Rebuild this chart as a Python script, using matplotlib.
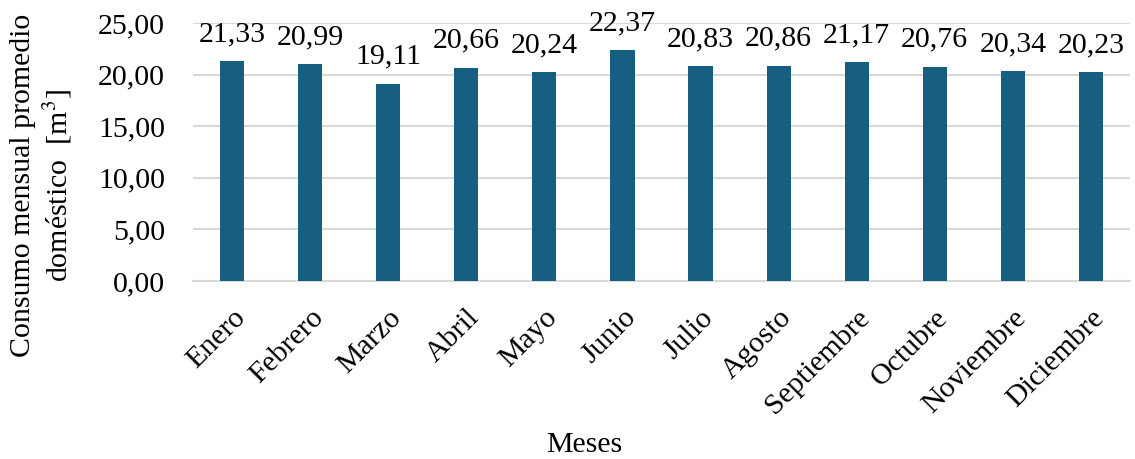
import matplotlib
matplotlib.use("Agg")
import matplotlib.pyplot as plt
import numpy as np

meses = ["Enero", "Febrero", "Marzo", "Abril", "Mayo", "Junio", "Julio",
         "Agosto", "Septiembre", "Octubre", "Noviembre", "Diciembre"]
consumo = [21.33, 20.99, 19.11, 20.66, 20.24, 22.37, 20.83,
           20.86, 21.17, 20.76, 20.34, 20.23]
yticks = [0, 5, 10, 15, 20, 25]

plt.rcParams['font.family'] = ['Liberation Serif', 'DejaVu Serif']
plt.rcParams['mathtext.fontset'] = 'stix'
fs = 21.5

fig, ax = plt.subplots(figsize=(11.35, 4.59), dpi=100)
fig.subplots_adjust(left=0.170, right=0.9956, top=0.95, bottom=0.388)

x = np.arange(len(meses))
bars = ax.bar(x, consumo, width=0.31, color='#175f80', zorder=3)

for xi, v in zip(x, consumo):
    ax.annotate(f"{v:.2f}".replace('.', ','), (xi, v), xytext=(0, 10),
                textcoords='offset points', ha='center', va='bottom', fontsize=fs)

ax.set_ylim(0, 25)
ax.set_xlim(-0.5, len(meses) - 0.5)
ax.set_yticks(yticks)
ax.set_yticklabels([f"{t:.2f}".replace('.', ',') for t in yticks], fontsize=fs)
ax.set_xticks(x)
ax.set_xticklabels(meses, rotation=45, ha='right', rotation_mode='anchor', fontsize=fs)
ax.tick_params(axis='y', length=0, pad=20)
ax.tick_params(axis='x', length=0, pad=17)
ax.grid(axis='y', color='#d9d9d9', linewidth=1.5, zorder=0)
for s in ['top', 'right', 'left']:
    ax.spines[s].set_visible(False)
ax.spines['bottom'].set_color('#d9d9d9')
ax.spines['bottom'].set_linewidth(1.5)

ax.set_ylabel("Consumo mensual promedio\ndoméstico  [m$^3$]", fontsize=fs)
ax.yaxis.set_label_coords(-0.127, 0.37)
ax.set_xlabel("Meses", fontsize=fs)
ax.xaxis.set_label_coords(0.418, -0.585)

fig.savefig("out.png", dpi=100)
